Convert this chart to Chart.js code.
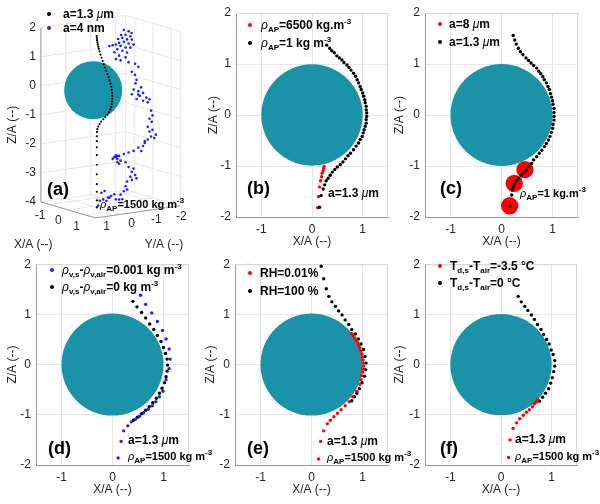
<!DOCTYPE html>
<html>
<head>
<meta charset="utf-8">
<title>Particle trajectories around a drop</title>
<script src="https://cdn.jsdelivr.net/npm/chart.js@4.4.1/dist/chart.umd.min.js"></script>
<style>
  html, body { margin: 0; background: #fff; }
  #fig { position: relative; width: 600px; height: 504px; overflow: hidden; font-family: "Liberation Sans", Arial, sans-serif; }
  #fig canvas { position: absolute; }
  .txt { position: absolute; white-space: nowrap; font-weight: bold; font-size: 12px; line-height: 12px; color: #000; transform: translateY(-50%); }
  .txt.small { font-size: 11px; line-height: 11px; }
  .txt sub, .txt sup { font-size: 8px; line-height: 0; }
  .txt .g { font-weight: normal; font-style: italic; }
  .tag { position: absolute; font-weight: bold; font-size: 18px; line-height: 18px; transform: translateY(-50%); }
  .dot { position: absolute; width: 4px; height: 4px; border-radius: 50%; margin: -2px 0 0 -2px; }
</style>
</head>
<body>
<div id="fig">
  <canvas id="pa" width="195" height="252" style="left:0;top:0"></canvas>
  <canvas id="pb" width="200" height="252" style="left:195px;top:0"></canvas>
  <canvas id="pc" width="208" height="252" style="left:392px;top:0"></canvas>
  <canvas id="pd" width="195" height="252" style="left:0;top:252px"></canvas>
  <canvas id="pe" width="200" height="252" style="left:195px;top:252px"></canvas>
  <canvas id="pf" width="208" height="252" style="left:392px;top:252px"></canvas>

  <!-- (a) -->
  <span class="dot" style="left:49px;top:14px;background:#000"></span>
  <span class="txt" style="left:63px;top:14px">a=1.3 <i class="g">μ</i>m</span>
  <span class="dot" style="left:49px;top:28px;background:#1f1fff"></span>
  <span class="txt" style="left:63px;top:28px">a=4 nm</span>
  <span class="tag" style="left:47px;top:189px">(a)</span>
  <span class="txt small" style="left:100px;top:204px"><i class="g">ρ</i><sub>AP</sub>=1500 kg m<sup>-3</sup></span>

  <!-- (b) -->
  <span class="dot" style="left:250px;top:25px;background:#f00"></span>
  <span class="txt" style="left:261px;top:25px"><i class="g">ρ</i><sub>AP</sub>=6500 kg.m<sup>-3</sup></span>
  <span class="dot" style="left:250px;top:43px;background:#000"></span>
  <span class="txt" style="left:261px;top:43px"><i class="g">ρ</i><sub>AP</sub>=1 kg m<sup>-3</sup></span>
  <span class="tag" style="left:247px;top:188px">(b)</span>
  <span class="txt" style="left:328px;top:193px">a=1.3 <i class="g">μ</i>m</span>

  <!-- (c) -->
  <span class="dot" style="left:440px;top:24px;background:#f00"></span>
  <span class="txt" style="left:449px;top:24px">a=8 <i class="g">μ</i>m</span>
  <span class="dot" style="left:440px;top:42px;background:#000"></span>
  <span class="txt" style="left:449px;top:42px">a=1.3 <i class="g">μ</i>m</span>
  <span class="tag" style="left:440px;top:188px">(c)</span>
  <span class="txt small" style="left:520px;top:193px"><i class="g">ρ</i><sub>AP</sub>=1 kg.m<sup>-3</sup></span>

  <!-- (d) -->
  <span class="dot" style="left:52px;top:270px;background:#1f1fff"></span>
  <span class="txt" style="left:62px;top:270px"><i class="g">ρ</i><sub>v,s</sub>-<i class="g">ρ</i><sub>v,air</sub>=0.001 kg m<sup>-3</sup></span>
  <span class="dot" style="left:52px;top:287px;background:#000"></span>
  <span class="txt" style="left:62px;top:287px"><i class="g">ρ</i><sub>v,s</sub>-<i class="g">ρ</i><sub>v,air</sub>=0 kg m<sup>-3</sup></span>
  <span class="tag" style="left:48px;top:448px">(d)</span>
  <span class="txt" style="left:128px;top:440px">a=1.3 <i class="g">μ</i>m</span>
  <span class="txt small" style="left:128px;top:456px"><i class="g">ρ</i><sub>AP</sub>=1500 kg m<sup>-3</sup></span>

  <!-- (e) -->
  <span class="dot" style="left:250px;top:273px;background:#f00"></span>
  <span class="txt" style="left:260px;top:273px">RH=0.01%</span>
  <span class="dot" style="left:250px;top:291px;background:#000"></span>
  <span class="txt" style="left:260px;top:291px">RH=100 %</span>
  <span class="tag" style="left:247px;top:448px">(e)</span>
  <span class="txt" style="left:327px;top:441px">a=1.3 <i class="g">μ</i>m</span>
  <span class="txt small" style="left:327px;top:457px"><i class="g">ρ</i><sub>AP</sub>=1500 kg m<sup>-3</sup></span>

  <!-- (f) -->
  <span class="dot" style="left:440px;top:266px;background:#f00"></span>
  <span class="txt" style="left:450px;top:266px">T<sub>d,s</sub>-T<sub>air</sub>=-3.5 °C</span>
  <span class="dot" style="left:440px;top:283px;background:#000"></span>
  <span class="txt" style="left:450px;top:283px">T<sub>d,s</sub>-T<sub>air</sub>=0 °C</span>
  <span class="tag" style="left:440px;top:448px">(f)</span>
  <span class="txt" style="left:515px;top:439px">a=1.3 <i class="g">μ</i>m</span>
  <span class="txt small" style="left:515px;top:456px"><i class="g">ρ</i><sub>AP</sub>=1500 kg m<sup>-3</sup></span>
</div>

<script>
// ---- data (X/A, Z/A, and Y/A for the 3D panel) ----
const xTicks = [-1, 0, 1];
const zTicks = [-2, -1, 0, 1, 2];
const sphereCentre = [0, 0];
const sphereRadius = 1;

// (a) 3D view: a=1.3 um path in the X-Z plane, a=4 nm path in the Y-Z plane
const aXTicks = [-1, 0, 1];
const aYTicks = [-2, -1, 0, 1];
const aZTicks = [-4, -3, -2, -1, 0, 1, 2];
const aXRange = [-1.5, 1.5];
const aYRange = [-2.4, 1];
const aZRange = [-4, 2];
const aFineX = [0.19,0.20,0.21,0.23,0.25,0.28,0.31,0.35,0.40,0.46,0.52,0.58,0.65,0.72,0.79,0.85,0.90,0.95,0.99,1.02,1.04,1.05,1.05,1.04,1.02,0.99,0.94,0.87,0.78,0.67,0.55,0.44,0.35,0.28,0.23,0.21,0.20,0.20,0.20,0.20,0.20,0.20,0.20,0.20,0.20,0.20];
const aFineZ = [1.90,1.83,1.76,1.69,1.62,1.55,1.48,1.40,1.30,1.20,1.10,1.00,0.90,0.80,0.70,0.60,0.50,0.40,0.30,0.20,0.10,0.00,-0.10,-0.20,-0.30,-0.40,-0.50,-0.60,-0.70,-0.80,-0.90,-1.00,-1.10,-1.20,-1.30,-1.40,-1.55,-1.72,-1.93,-2.20,-2.53,-2.86,-3.20,-3.46,-3.76,-4.00];
const aNanoY = [-1.42,-1.30,-1.49,-1.17,-1.36,-1.55,-1.23,-1.04,-1.42,-0.91,
  -0.78,-0.65,-1.10,-1.30,-1.49,-0.97,-1.17,-0.85,-1.36,-1.04,
  -1.30,-0.91,-1.10,-1.42,-1.68,-1.81,-1.55,-1.68,-1.74,-1.70,
  -1.62,-1.81,-2.00,-1.55,-1.87,-2.13,-1.74,-2.00,-2.19,-2.32,
  -2.38,-2.26,-2.35,-2.19,-2.38,-2.26,-2.51,-2.32,-2.45,-2.19,
  -2.07,-2.00,-1.93,-2.07,-1.81,-1.62,-1.42,-1.23,-1.04,-0.91,
  -0.85,-0.78,-0.97,-1.10,-0.97,-1.30,-1.04,-1.42,-1.62,-1.55,
  -1.68,-1.49,-1.74,-1.55,-1.36,-1.30,-1.36,-1.23,-1.10,-1.04,
  -0.85,-0.72,-0.59,-0.46,-0.33,-0.40,-0.27,-0.20,-0.53,-0.65,
  -0.91,-1.17,-1.81,-2.26,-1.92,-1.23,-1.54,-1.12,-1.00,-1.62,
  -0.92,-1.00];
const aNanoZ = [1.85,1.75,1.67,1.66,1.58,1.55,1.51,1.50,1.43,1.46,
  1.45,1.44,1.39,1.31,1.28,1.29,1.21,1.20,1.13,1.06,
  0.97,0.96,0.89,0.79,0.70,0.58,0.44,0.32,0.14,0.03,
  -0.18,-0.26,-0.34,-0.33,-0.43,-0.52,-0.52,-0.61,-0.69,-0.99,
  -1.16,-1.26,-1.38,-1.53,-1.66,-1.70,-1.84,-1.88,-1.95,-1.97,
  -2.01,-2.17,-2.33,-2.07,-2.20,-2.29,-2.32,-2.35,-2.39,-2.35,
  -2.41,-2.46,-2.49,-2.56,-2.60,-2.64,-2.66,-2.82,-2.90,-3.00,
  -3.13,-3.16,-3.25,-3.28,-3.31,-3.47,-3.59,-3.63,-3.73,-3.89,
  -3.69,-3.73,-3.77,-3.53,-3.57,-3.81,-3.84,-4.00,-3.88,-3.78,
  -3.87,-3.90,-0.37,-0.59,-0.14,1.92,1.78,1.76,1.64,1.37,
  -2.41,-2.39];

// (b) density of the aerosol particle
const bLightX = [0.29,0.35,0.39,0.44,0.49,0.54,0.59,0.63,0.69,0.73,0.77,0.82,0.86,0.89,0.92,0.95,0.97,1.00,1.02,1.04,1.05,1.07,1.07,1.08,1.08,1.07,1.07,1.05,1.03,1.01,0.99,0.95,0.92,0.87,0.82,0.76,0.71,0.66,0.61,0.56,0.50,0.45,0.40,0.36,0.32,0.28,0.25,0.22,0.18,0.15];
const bLightZ = [1.37,1.31,1.26,1.22,1.16,1.12,1.08,1.03,0.98,0.93,0.88,0.82,0.76,0.69,0.63,0.56,0.50,0.43,0.37,0.30,0.24,0.17,0.10,0.04,-0.03,-0.09,-0.16,-0.22,-0.29,-0.35,-0.42,-0.48,-0.55,-0.61,-0.68,-0.75,-0.80,-0.86,-0.92,-0.97,-1.02,-1.07,-1.12,-1.18,-1.24,-1.29,-1.37,-1.45,-1.58,-1.81];
const bHeavyX = [0.24,0.23,0.22,0.20,0.19,0.17,0.15,0.13,0.11];
const bHeavyZ = [-1.01,-1.05,-1.09,-1.14,-1.21,-1.29,-1.41,-1.60,-1.82];

// (c) particle size
const cSmallX = [0.23,0.26,0.29,0.33,0.37,0.42,0.48,0.53,0.58,0.63,0.69,0.73,0.77,0.81,0.84,0.88,0.91,0.94,0.96,0.98,1.00,1.01,1.03,1.03,1.03,1.03,1.01,1.00,0.98,0.95,0.92,0.88,0.84,0.79,0.74,0.69,0.63,0.59,0.54,0.49,0.44,0.39,0.34,0.29,0.26,0.23,0.21,0.20,0.16];
const cSmallZ = [1.56,1.47,1.39,1.31,1.24,1.18,1.12,1.07,1.02,0.97,0.92,0.86,0.81,0.75,0.69,0.63,0.56,0.50,0.42,0.35,0.28,0.21,0.13,0.05,-0.03,-0.10,-0.18,-0.26,-0.34,-0.42,-0.49,-0.56,-0.62,-0.69,-0.75,-0.82,-0.88,-0.95,-1.01,-1.08,-1.13,-1.18,-1.24,-1.29,-1.35,-1.41,-1.47,-1.57,-1.78];
const cBigX = [0.46, 0.25, 0.16];
const cBigZ = [-1.07, -1.34, -1.78];
const cBigRadius = 0.17; // particle radius in A units

// (d) vapour density difference
const dWetX = [0.55,0.65,0.77,0.88,0.98,1.05,1.11,1.13,1.11,1.05,0.99,0.92,0.85,0.78,0.70,0.61,0.53,0.45,0.37,0.30,0.22,0.17,0.11];
const dWetZ = [1.38,1.20,1.03,0.86,0.68,0.51,0.31,0.11,-0.08,-0.30,-0.53,-0.64,-0.74,-0.82,-0.89,-0.96,-1.03,-1.09,-1.14,-1.22,-1.32,-1.53,-1.86];
const dDryX = [0.40,0.48,0.57,0.65,0.73,0.81,0.88,0.95,1.00,1.04,1.07,1.08,1.07,1.05,1.02,0.97,0.92,0.86,0.79,0.72,0.65,0.57,0.49,0.41];
const dDryZ = [1.26,1.15,1.04,0.93,0.81,0.70,0.58,0.46,0.34,0.22,0.11,-0.01,-0.13,-0.24,-0.36,-0.47,-0.57,-0.67,-0.76,-0.84,-0.91,-0.98,-1.05,-1.11];

// (e) relative humidity
const eLowX = [0.79,0.82,0.85,0.88,0.91,0.93,0.95,0.97,0.99,1.00,1.01,1.02,1.02,1.01,1.00,0.98,0.97,0.95,0.89,0.81,0.74,0.66,0.58,0.51,0.44,0.37,0.31,0.24,0.18,0.14];
const eLowZ = [0.62,0.58,0.53,0.48,0.43,0.38,0.33,0.27,0.21,0.15,0.09,0.03,-0.03,-0.09,-0.15,-0.22,-0.30,-0.39,-0.53,-0.64,-0.74,-0.82,-0.90,-0.97,-1.04,-1.11,-1.18,-1.32,-1.53,-1.88];
const eFullX = [0.19,0.24,0.29,0.34,0.40,0.47,0.53,0.60,0.66,0.73,0.79,0.86,0.92,0.97,1.02,1.05,1.07,1.06,1.04,0.99,0.94,0.89,0.84,0.79];
const eFullZ = [1.96,1.71,1.51,1.36,1.25,1.16,1.07,0.99,0.89,0.80,0.70,0.61,0.51,0.41,0.30,0.16,0.03,-0.10,-0.23,-0.36,-0.48,-0.57,-0.64,-0.72];

// (f) drop temperature difference
const fColdX = [0.73,0.71,0.69,0.66,0.62,0.56,0.50,0.44,0.37,0.31,0.24,0.18,0.15];
const fColdZ = [-0.70,-0.73,-0.75,-0.78,-0.84,-0.90,-0.95,-1.01,-1.08,-1.16,-1.27,-1.50,-1.85];
const fEqX = [0.34,0.40,0.47,0.53,0.60,0.66,0.72,0.79,0.84,0.90,0.95,0.99,1.03,1.06,1.06,1.04,1.01,0.98,0.94,0.88,0.82,0.76];
const fEqZ = [1.36,1.25,1.16,1.08,0.99,0.90,0.80,0.70,0.60,0.50,0.41,0.29,0.20,0.08,-0.03,-0.14,-0.26,-0.37,-0.48,-0.57,-0.65,-0.73];

// ---- style ----
const sphereColour = '#1a93a8';
const gridColour = '#e6e6e6';
const axisColour = '#9a9a9a';
const inkColour = '#262626';
const red = '#ff0000', blue = '#1f1fff', black = '#000000';
const fontStack = '"Liberation Sans", Arial, sans-serif';

Chart.defaults.font.family = fontStack;
Chart.defaults.font.size = 12;

function pts(xs, zs) {
  return xs.map((x, i) => ({ x: x, y: zs[i] }));
}

function dots(xs, zs, colour, order) {
  return { data: pts(xs, zs), backgroundColor: colour, borderWidth: 0, pointRadius: 1.7, order: order };
}

// light box on top and right of each flat panel
const frame = {
  id: 'frame',
  beforeDatasetsDraw(chart) {
    const { ctx, chartArea: a } = chart;
    ctx.save();
    ctx.strokeStyle = '#d4d4d4';
    ctx.lineWidth = 1;
    ctx.beginPath();
    ctx.moveTo(a.left, a.top + 0.5);
    ctx.lineTo(a.right - 0.5, a.top + 0.5);
    ctx.lineTo(a.right - 0.5, a.bottom);
    ctx.stroke();
    ctx.restore();
  }
};

function flatPanel(id, g, sets) {
  const unit = s => s.getPixelForValue(1) - s.getPixelForValue(0);
  const sphere = {
    data: [{ x: sphereCentre[0], y: sphereCentre[1] }],
    backgroundColor: sphereColour, borderWidth: 0, order: 9,
    pointRadius: c => sphereRadius * unit(c.chart.scales.x)
  };
  return new Chart(document.getElementById(id), {
    type: 'scatter',
    data: { datasets: sets.concat([sphere]) },
    options: {
      responsive: false,
      animation: false,
      events: [],
      layout: { padding: { top: g.top, right: g.right, left: 0, bottom: 0 } },
      plugins: { legend: { display: false }, tooltip: { enabled: false } },
      scales: {
        x: {
          type: 'linear', min: -1.5, max: 1.5,
          afterBuildTicks: s => { s.ticks = xTicks.map(v => ({ value: v })); },
          afterFit: s => { s.height = g.bottom; },
          grid: { color: gridColour, drawTicks: false },
          border: { color: axisColour },
          ticks: { color: inkColour, padding: 5 },
          title: { display: true, text: 'X/A (--)', color: inkColour, padding: { top: 0, bottom: g.xTitle } }
        },
        y: {
          type: 'linear', min: -2, max: 2,
          afterBuildTicks: s => { s.ticks = zTicks.map(v => ({ value: v })); },
          afterFit: s => { s.width = g.left; },
          grid: { color: gridColour, drawTicks: false },
          border: { color: axisColour },
          ticks: { color: inkColour, padding: 5 },
          title: { display: true, text: 'Z/A (--)', color: inkColour, padding: { top: g.yTitle, bottom: 0 } }
        }
      }
    },
    plugins: [frame]
  });
}

// ---- (a) 3D panel ----
// oblique view: screen offset of one unit along X, Y and Z
function proj(X, Y, Z) {
  return { x: 19 * X - 26 * Y, y: 30 * Z - 5.5 * X - 3.7 * Y };
}

const cubeAxes = {
  id: 'cubeAxes',
  beforeDatasetsDraw(chart) {
    const ctx = chart.ctx, sx = chart.scales.x, sy = chart.scales.y;
    const P = (X, Y, Z) => { const p = proj(X, Y, Z); return [sx.getPixelForValue(p.x), sy.getPixelForValue(p.y)]; };
    const [x0, x1] = aXRange, [y0, y1] = aYRange, [z0, z1] = aZRange;
    const line = (a, b, colour) => {
      ctx.strokeStyle = colour;
      ctx.beginPath(); ctx.moveTo(a[0], a[1]); ctx.lineTo(b[0], b[1]); ctx.stroke();
    };
    ctx.save();
    ctx.lineWidth = 1;
    // floor and the two back walls
    aXTicks.forEach(v => { line(P(v, y1, z0), P(v, y0, z0), gridColour); line(P(v, y0, z0), P(v, y0, z1), gridColour); });
    aYTicks.forEach(v => { line(P(x0, v, z0), P(x1, v, z0), gridColour); line(P(x0, v, z0), P(x0, v, z1), gridColour); });
    aZTicks.forEach(v => { line(P(x0, y1, v), P(x0, y0, v), gridColour); line(P(x0, y0, v), P(x1, y0, v), gridColour); });
    line(P(x0, y0, z0), P(x0, y0, z1), gridColour);
    line(P(x1, y0, z0), P(x1, y0, z1), gridColour);
    // axes
    line(P(x0, y1, z0), P(x0, y1, z1), axisColour);
    line(P(x0, y1, z0), P(x1, y1, z0), axisColour);
    line(P(x1, y1, z0), P(x1, y0, z0), axisColour);
    // tick labels
    ctx.fillStyle = inkColour;
    ctx.font = '12px ' + fontStack;
    ctx.textBaseline = 'middle';
    ctx.textAlign = 'right';
    aZTicks.forEach(v => { const p = P(x0, y1, v); ctx.fillText(String(v), p[0] - 5, p[1]); });
    ctx.textAlign = 'center';
    aXTicks.forEach(v => { const p = P(v, y1, z0); ctx.fillText(String(v), p[0] - 10, p[1] + 11); });
    aYTicks.forEach(v => { const p = P(x1, v, z0); ctx.fillText(String(v), p[0] + 11, p[1] + 9); });
    // axis titles
    let p = P(0, y1, z0);
    ctx.fillText('X/A (--)', p[0] - 35, p[1] + 35);
    p = P(x1, (y0 + y1) / 2, z0);
    ctx.fillText('Y/A (--)', p[0] + 26, p[1] + 33);
    p = P(x0, y1, (z0 + z1) / 2);
    ctx.translate(p[0] - 28, p[1] + 10);
    ctx.rotate(-Math.PI / 2);
    ctx.fillText('Z/A (--)', 0, 0);
    ctx.restore();
  }
};

new Chart(document.getElementById('pa'), {
  type: 'scatter',
  data: {
    datasets: [
      { data: aFineX.map((x, i) => proj(x, 0, aFineZ[i])), backgroundColor: black, borderWidth: 0, pointRadius: 1.1, order: 1 },
      { data: aNanoY.map((y, i) => proj(0, y, aNanoZ[i])), backgroundColor: blue, borderWidth: 0, pointRadius: 1.3, order: 2 },
      {
        data: [proj(sphereCentre[0], 0, sphereCentre[1])], backgroundColor: sphereColour, borderWidth: 0, order: 9,
        pointRadius: c => {
          const s = c.chart.scales.y;
          return s.getPixelForValue(proj(0, 0, 0).y) - s.getPixelForValue(proj(0, 0, sphereRadius).y);
        }
      }
    ]
  },
  options: {
    responsive: false,
    animation: false,
    events: [],
    layout: { padding: 0 },
    plugins: { legend: { display: false }, tooltip: { enabled: false } },
    scales: {
      x: { type: 'linear', display: false, min: -93, max: 102 },
      y: { type: 'linear', display: false, min: -163, max: 89 }
    }
  },
  plugins: [cubeAxes]
});

// ---- flat panels ----
flatPanel('pb', { left: 41, right: 7, top: 13, bottom: 35, xTitle: 3, yTitle: 11 }, [
  dots(bHeavyX, bHeavyZ, red, 1),
  dots(bLightX, bLightZ, black, 0)
]);

flatPanel('pc', { left: 33, right: 22, top: 13, bottom: 35, xTitle: 3, yTitle: 0 }, [
  {
    data: pts(cBigX, cBigZ), backgroundColor: red, borderWidth: 0, order: 1,
    pointRadius: c => { const s = c.chart.scales.x; return s.getPixelForValue(cBigRadius) - s.getPixelForValue(0); }
  },
  dots(cSmallX, cSmallZ, black, 0)
]);

flatPanel('pd', { left: 36, right: 6, top: 9, bottom: 39, xTitle: 7, yTitle: 5 }, [
  dots(dWetX, dWetZ, blue, 0),
  dots(dDryX, dDryZ, black, 1)
]);

flatPanel('pe', { left: 40, right: 7, top: 9, bottom: 39, xTitle: 7, yTitle: 8 }, [
  dots(eLowX, eLowZ, red, 0),
  dots(eFullX, eFullZ, black, 1)
]);

flatPanel('pf', { left: 33, right: 23, top: 9, bottom: 39, xTitle: 7, yTitle: 0 }, [
  dots(fColdX, fColdZ, red, 0),
  dots(fEqX, fEqZ, black, 1)
]);
</script>
</body>
</html>
